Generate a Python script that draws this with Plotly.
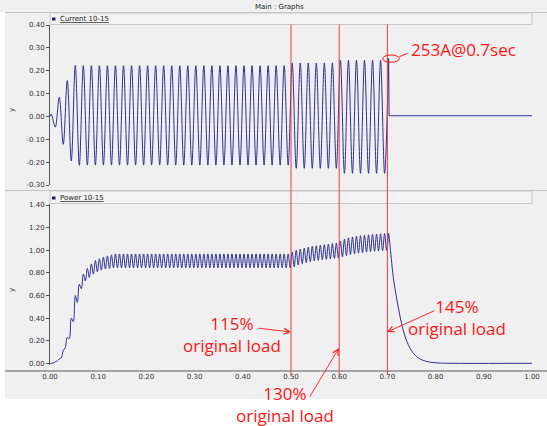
import plotly.graph_objects as go

# ---------------- data ----------------
# Current 10-15: successive half-cycle peaks of the 60 Hz current (first peak at t0)
current_t0 = 0.0025
current_half_period = 1 / 120
current_peaks = [
    0.010, -0.047, 0.084, -0.122, 0.157, -0.195, 0.224, -0.214,
    0.222, -0.213, 0.222, -0.213, 0.222, -0.213, 0.222, -0.213,
    0.222, -0.213, 0.222, -0.213, 0.222, -0.213, 0.222, -0.213,
    0.222, -0.213, 0.222, -0.213, 0.222, -0.213, 0.222, -0.213,
    0.222, -0.213, 0.222, -0.213, 0.222, -0.213, 0.222, -0.213,
    0.222, -0.213, 0.222, -0.213, 0.222, -0.213, 0.222, -0.213,
    0.222, -0.213, 0.222, -0.213, 0.222, -0.213, 0.222, -0.213,
    0.222, -0.213, 0.222, -0.213,
    0.234, -0.227, 0.234, -0.227, 0.234, -0.227, 0.234, -0.227,
    0.234, -0.227, 0.234, -0.227,
    0.246, -0.249, 0.246, -0.249, 0.246, -0.249, 0.246, -0.249,
    0.246, -0.249, 0.246, -0.249,
    0.253,
]
current_start_t, current_start_v = [0.0], [0.0]
current_after_t = [0.7035, 1.0]
current_after_v = [0.003, 0.003]

# Power 10-15: successive ripple extrema (120 Hz ripple, max/min alternating)
power_t0 = 0.0025
power_half_period = 1 / 240
power_extrema = [
    0.002, 0.005, 0.015, 0.022, 0.040, 0.050, 0.115, 0.140,
    0.230, 0.220, 0.400, 0.370, 0.600, 0.540, 0.700, 0.660,
    0.790, 0.730, 0.840, 0.760, 0.880, 0.790, 0.910, 0.810,
    0.925, 0.825, 0.940, 0.835, 0.950, 0.840, 0.960, 0.845,
    0.968, 0.845, 0.968, 0.845, 0.968, 0.845, 0.968, 0.845,
    0.968, 0.845, 0.968, 0.845, 0.968, 0.845, 0.968, 0.845,
    0.968, 0.845, 0.968, 0.845, 0.968, 0.845, 0.968, 0.845,
    0.968, 0.845, 0.968, 0.845, 0.968, 0.845, 0.968, 0.845,
    0.968, 0.845, 0.968, 0.845, 0.968, 0.845, 0.968, 0.845,
    0.968, 0.845, 0.968, 0.845, 0.968, 0.845, 0.968, 0.845,
    0.968, 0.845, 0.968, 0.845, 0.968, 0.845, 0.968, 0.845,
    0.968, 0.845, 0.968, 0.845, 0.968, 0.845, 0.968, 0.845,
    0.968, 0.845, 0.968, 0.845, 0.968, 0.845, 0.968, 0.845,
    0.968, 0.845, 0.968, 0.845, 0.968, 0.845, 0.968, 0.845,
    0.968, 0.845, 0.968, 0.845, 0.968, 0.845, 0.968, 0.845,
    0.985, 0.855, 1.000, 0.870, 1.010, 0.882, 1.020, 0.892,
    1.028, 0.900, 1.035, 0.906, 1.040, 0.911, 1.045, 0.916,
    1.050, 0.920, 1.055, 0.924, 1.060, 0.928, 1.064, 0.930,
    1.080, 0.940, 1.098, 0.953, 1.110, 0.963, 1.118, 0.970,
    1.124, 0.975, 1.129, 0.980, 1.133, 0.984, 1.137, 0.988,
    1.140, 0.991, 1.143, 0.994, 1.146, 0.997, 1.148, 0.999,
    1.150,
]
power_start_t, power_start_v = [0.0], [0.0]
power_decay_t = [0.705, 0.712, 0.719, 0.726, 0.733, 0.740, 0.747, 0.754,
                 0.764, 0.774, 0.785, 0.795, 0.810, 0.830, 1.000]
power_decay_v = [1.060, 0.770, 0.580, 0.420, 0.290, 0.200, 0.135, 0.090,
                 0.050, 0.028, 0.015, 0.008, 0.004, 0.002, 0.002]

x_ticks = [0.0, 0.1, 0.2, 0.3, 0.4, 0.5, 0.6, 0.7, 0.8, 0.9, 1.0]
current_ticks = [-0.3, -0.2, -0.1, 0.0, 0.1, 0.2, 0.3, 0.4]
power_ticks = [0.0, 0.2, 0.4, 0.6, 0.8, 1.0, 1.2, 1.4]
marker_times = [0.5, 0.6, 0.7]

# ---------------- build series ----------------
cur_wave_t = current_start_t + [current_t0 + k * current_half_period
                                for k in range(len(current_peaks))]
cur_wave_v = current_start_v + current_peaks
cur_tail_t = cur_wave_t[-1:] + current_after_t
cur_tail_v = cur_wave_v[-1:] + current_after_v
pow_wave_t = power_start_t + [power_t0 + j * power_half_period
                              for j in range(len(power_extrema))]
pow_wave_v = power_start_v + power_extrema
pow_tail_t = pow_wave_t[-1:] + power_decay_t
pow_tail_v = pow_wave_v[-1:] + power_decay_v

def fmt(v):
    return f"{v:.2f}"

W, H = 547, 426
def px(x):
    return x / W
def py(y):
    return 1 - y / H

LINE = '#2e2e98'
GRAY_BG = '#f0f0f0'
AX = '#555555'
RED = 'rgb(255,20,20)'
TICKFONT = dict(family='DejaVu Sans', size=7, color='#333333')

fig = go.Figure()
for (xs, ys, xa, ya, shape) in [
    (cur_wave_t, cur_wave_v, 'x', 'y', 'spline'),
    (cur_tail_t, cur_tail_v, 'x', 'y', 'linear'),
    (pow_wave_t, pow_wave_v, 'x2', 'y2', 'spline'),
    (pow_tail_t, pow_tail_v, 'x2', 'y2', 'spline'),
]:
    fig.add_trace(go.Scatter(x=xs, y=ys, mode='lines',
                             line=dict(color=LINE, width=1, shape=shape, smoothing=1),
                             xaxis=xa, yaxis=ya, showlegend=False, hoverinfo='skip'))

xdom = [px(50), px(532)]
fig.update_layout(
    width=W, height=H, autosize=False,
    margin=dict(l=0, r=0, t=0, b=0, pad=0, autoexpand=False),
    paper_bgcolor='white', plot_bgcolor='white', showlegend=False,
    xaxis=dict(domain=xdom, range=[0, 1], anchor='y', showticklabels=False, automargin=False,
               showline=False, showgrid=False, zeroline=False, ticks=''),
    yaxis=dict(domain=[py(185), py(25)], range=[-0.30, 0.40], anchor='x', automargin=False,
               tickvals=current_ticks, ticktext=[fmt(v) for v in current_ticks],
               ticks='outside', ticklen=3,
               tickcolor=AX, showline=True, linecolor=AX, linewidth=1,
               showgrid=False, zeroline=False, tickfont=TICKFONT),
    xaxis2=dict(domain=xdom, range=[0, 1], anchor='free', position=py(371), automargin=False,
                tickvals=x_ticks, ticktext=[fmt(v) for v in x_ticks], ticks='', showline=False,
                showgrid=False, zeroline=False, tickfont=TICKFONT),
    yaxis2=dict(domain=[py(364.5), py(203.5)], range=[-0.0088, 1.4133], anchor='x2',
                automargin=False,
                tickvals=power_ticks, ticktext=[fmt(v) for v in power_ticks],
                ticks='outside', ticklen=3,
                tickcolor=AX, showline=True, linecolor=AX, linewidth=1,
                showgrid=False, zeroline=False, tickfont=TICKFONT),
)

shapes = []
shapes.append(dict(type='rect', xref='paper', yref='paper', x0=0, x1=1, y0=py(12), y1=1,
                   fillcolor=GRAY_BG, line=dict(width=0), layer='below'))
shapes.append(dict(type='rect', xref='paper', yref='paper', x0=px(5), x1=1, y0=py(399), y1=py(12),
                   fillcolor=GRAY_BG, line=dict(width=0), layer='below'))
for yy in [12.5, 190.5]:
    shapes.append(dict(type='line', xref='paper', yref='paper', x0=px(5), x1=1, y0=py(yy), y1=py(yy),
                       line=dict(color='#c4c4c4', width=1), layer='below'))
for (y0, y1) in [(13, 24.5), (191, 203.5)]:
    shapes.append(dict(type='rect', xref='paper', yref='paper', x0=px(50), x1=px(532),
                       y0=py(y1), y1=py(y0), fillcolor='#f3f3f3',
                       line=dict(color='#c8c8c8', width=1), layer='below'))
for (y0, y1) in [(17.5, 20.5), (196.5, 199.5)]:
    shapes.append(dict(type='rect', xref='paper', yref='paper', x0=px(52), x1=px(55.5),
                       y0=py(y1), y1=py(y0), fillcolor='#1a1a80', line=dict(width=0)))
shapes.append(dict(type='line', xref='paper', yref='paper', x0=px(5), x1=1, y0=py(371), y1=py(371),
                   line=dict(color='#8c8c8c', width=1.5)))
for t in marker_times:
    shapes.append(dict(type='line', xref='x2', yref='paper', x0=t, x1=t, y0=py(375), y1=py(24.5),
                       line=dict(color='rgb(235,60,60)', width=1)))
shapes.append(dict(type='circle', xref='paper', yref='paper', x0=px(382.7), x1=px(399.3),
                   y0=py(62.3), y1=py(55), line=dict(color=RED, width=1)))
shapes.append(dict(type='line', xref='paper', yref='paper', x0=px(399.3), x1=px(407.5),
                   y0=py(56.7), y1=py(53.3), line=dict(color=RED, width=1)))
fig.update_layout(shapes=shapes)

ann = []
def text(x, y, s, size=17, color=RED, family='Open Sans', **kw):
    ann.append(dict(x=px(x), y=py(y), xref='paper', yref='paper', text=s, showarrow=False,
                    font=dict(family=family, size=size, color=color),
                    xanchor=kw.get('xanchor', 'center'), yanchor='middle', align='center',
                    textangle=kw.get('textangle', 0)))

text(279, 7, 'Main : Graphs', size=7, color='#222222', family='DejaVu Sans')
text(58, 19, '<u>Current 10-15</u>', size=7, color='#222222', family='DejaVu Sans', xanchor='left')
text(58, 198, '<u>Power 10-15</u>', size=7, color='#222222', family='DejaVu Sans', xanchor='left')
text(12, 110, 'y', size=7, color='#333333', family='DejaVu Sans', textangle=-90)
text(12, 290, 'y', size=7, color='#333333', family='DejaVu Sans', textangle=-90)

text(463, 49, '253A@0.7sec')
text(232, 334, '115%<br>original load')
text(285, 404, '130%<br>original load')
text(456.5, 317, '145%<br>original load')

def arrow(hx, hy, tx, ty):
    ann.append(dict(x=px(hx), y=py(hy), xref='paper', yref='paper', text='', showarrow=True,
                    ax=tx - hx, ay=ty - hy, arrowhead=5, arrowsize=1.3, arrowwidth=0.9,
                    arrowcolor=RED, standoff=0, startstandoff=0))

arrow(291, 332, 257, 328)
arrow(339, 348, 309, 398)
arrow(387, 332, 436, 310)

fig.update_layout(annotations=ann)
fig.write_html('out.html', config={'displayModeBar': False},
               post_script="document.body.style.margin='0';document.body.style.overflow='hidden';")
